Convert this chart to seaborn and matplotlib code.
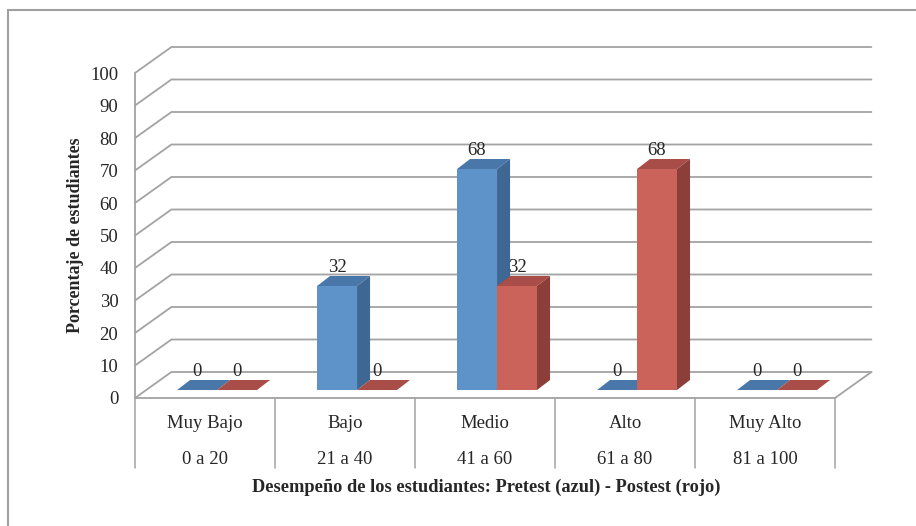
import matplotlib
matplotlib.use("Agg")
import matplotlib.pyplot as plt
from matplotlib.patches import Polygon, Rectangle
import seaborn as sns
import pandas as pd

# --- data -------------------------------------------------------------
niveles = ["Muy Bajo", "Bajo", "Medio", "Alto", "Muy Alto"]
rangos = ["0 a 20", "21 a 40", "41 a 60", "61 a 80", "81 a 100"]
pretest = [0, 32, 68, 0, 0]
postest = [0, 0, 32, 68, 0]
y_ticks = list(range(0, 101, 10))

series = ["Pretest", "Postest"]
values = [pretest, postest]
front_colors = ["#5d93c9", "#cb635b"]
side_colors = ["#3f6794", "#8c3e39"]
top_colors = ["#4a77aa", "#a84d47"]

df = pd.DataFrame({
    "Nivel": niveles * 2,
    "Porcentaje": pretest + postest,
    "Prueba": [series[0]] * len(niveles) + [series[1]] * len(niveles),
})

# --- style ------------------------------------------------------------
sns.set_style("white")
plt.rcParams["font.family"] = ["Liberation Serif", "DejaVu Serif"]
grid_col = "#a3a3a3"

W, H = 916, 526
fig = plt.figure(figsize=(W / 100, H / 100), dpi=100)
ax_left_px, ax_bottom_px, ax_top_px = 135, 398, 40
unit_x = 140.0            # pixels per category
unit_y = 3.25             # pixels per percentage point
x_span = 749 / unit_x
y_span = (ax_bottom_px - ax_top_px) / unit_y
ax = fig.add_axes([ax_left_px / W, (H - ax_bottom_px) / H,
                   749 / W, (ax_bottom_px - ax_top_px) / H])

# oblique depth of the floor/back wall and of the bars (data units)
DX, DY = 0.26, 8.0
BDX, BDY = 0.093, 3.08
shift_x, base_y = 0.086, 2.46

sns.barplot(data=df, x="Nivel", y="Porcentaje", hue="Prueba",
            order=niveles, hue_order=series, palette=front_colors,
            saturation=1, width=0.571, dodge=True, legend=False,
            linewidth=0, errorbar=None, ax=ax)

ax.set_xlim(-0.5, -0.5 + x_span)
ax.set_ylim(0, y_span)

# back wall gridlines and floor
x0, x1 = -0.5, len(niveles) - 0.5
for v in y_ticks:
    ax.plot([x0, x0 + DX, x1 + DX], [v, v + DY, v + DY],
            color=grid_col, lw=1.3, zorder=1, solid_joinstyle="miter")
ax.plot([x0, x1, x1 + DX], [0, 0, DY], color=grid_col, lw=1.3, zorder=1,
        clip_on=False)

# category dividers below the floor
for i in range(len(niveles) + 1):
    ax.plot([x0 + i, x0 + i], [0, -21.6], color=grid_col, lw=1.1,
            clip_on=False, zorder=1)

# turn the flat bars into blocks
bars = []
for k, cont in enumerate(ax.containers):
    for p in cont:
        p.set_x(p.get_x() + shift_x)
        p.set_y(base_y)
        bars.append((p.get_x(), k, p))
bars.sort(key=lambda b: b[0])
z = 3
for bx, k, p in bars:
    w, h = p.get_width(), p.get_height()
    yb, yt = base_y, base_y + h
    top = Polygon([(bx, yt), (bx + w, yt), (bx + w + BDX, yt + BDY),
                   (bx + BDX, yt + BDY)], closed=True, fc=top_colors[k],
                  ec="none", zorder=z)
    ax.add_patch(top)
    if h > 0:
        side = Polygon([(bx + w, yb), (bx + w + BDX, yb + BDY),
                        (bx + w + BDX, yt + BDY), (bx + w, yt)],
                       closed=True, fc=side_colors[k], ec="none", zorder=z)
        ax.add_patch(side)
    p.set_zorder(z + 0.5)
    z += 1

for cont, vals in zip(ax.containers, values):
    ax.bar_label(cont, labels=[f"{v:g}" for v in vals], padding=7,
                 fontsize=13.5, zorder=30)

# axes decorations
for s in ["top", "right", "bottom"]:
    ax.spines[s].set_visible(False)
ax.spines["left"].set_color(grid_col)
ax.spines["left"].set_linewidth(1.3)
ax.spines["left"].set_bounds(0, 100)
ax.set_yticks(y_ticks)
ax.tick_params(axis="y", length=4, color=grid_col, width=1.2, pad=8,
               labelsize=13.5)
ax.set_xticks(range(len(niveles)))
ax.set_xticklabels([f"{n}\n{r}" for n, r in zip(niveles, rangos)],
                   fontsize=13.5, linespacing=2.45)
ax.tick_params(axis="x", length=0, pad=12)

ax.set_ylabel("Porcentaje de estudiantes", fontsize=13,
              fontweight="bold")
ax.yaxis.set_label_coords((75 - ax_left_px) / 749, (398 - 235) / 358)
ax.yaxis.label.set_va("center")
ax.set_xlabel("Desempeño de los estudiantes: Pretest (azul) - Postest (rojo)",
              fontsize=13.2, fontweight="bold")
ax.xaxis.set_label_coords((486 - ax_left_px) / 749, (398 - 487) / 358)
ax.xaxis.label.set_va("center")

# chart frame
fig.add_artist(Rectangle((8 / W, -0.2), 1.2, (H - 10) / H + 0.2,
                         transform=fig.transFigure, fill=False,
                         ec="#a0a0a0", lw=1.5))

fig.savefig("out.png", dpi=100)
